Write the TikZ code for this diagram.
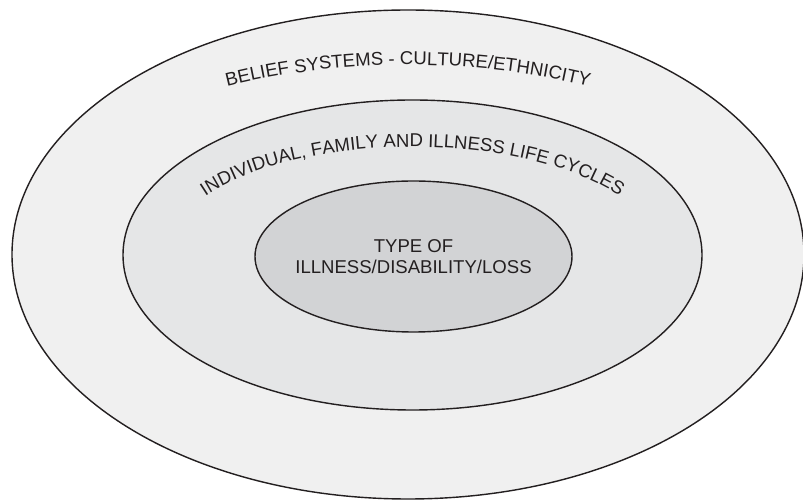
\documentclass[tikz,border=0pt]{standalone}
\usepackage{fontspec}
\setmainfont{Liberation Sans}
\usetikzlibrary{calc,decorations.text}
\definecolor{ringout}{HTML}{F0F0F0}
\definecolor{ringmid}{HTML}{E5E6E7}
\definecolor{ringin}{HTML}{D2D3D5}
\definecolor{inkgray}{HTML}{231F20}
\begin{document}
\begin{tikzpicture}[x=0.025cm,y=0.025cm,
  ring/.style={draw=inkgray,line width=1pt},
  lbl/.style={text=inkgray,font=\fontsize{13.2}{15}\selectfont}]
\useasboundingbox[fill=white] (0,0) rectangle (803,500);
\coordinate (c1) at (408,245.5);
\coordinate (c2) at (412.5,245);
\coordinate (c3) at (413.5,243.5);
\path[ring,fill=ringout] (c1) ellipse[x radius=396,y radius=244.5];
\path[ring,fill=ringmid] (c2) ellipse[x radius=289.5,y radius=155];
\path[ring,fill=ringin] (c3) ellipse[x radius=158.5,y radius=75.5];
% curved labels
\path[decorate,decoration={text along path,text align=center,
  text={|\color{inkgray}\fontsize{13.2}{15}\selectfont|BELIEF SYSTEMS - CULTURE/ETHNICITY}}]
  ($(c1)+(165:391 and 189.5)$) arc[start angle=165,end angle=15,x radius=391,y radius=189.5];
\path[decorate,decoration={text along path,text align=center,
  text={|\color{inkgray}\fontsize{13.2}{15}\selectfont|INDIVIDUAL, FAMILY AND ILLNESS LIFE CYCLES}}]
  ($(c2)+(170:247 and 108)$) arc[start angle=170,end angle=10,x radius=247,y radius=108];
\node[lbl,align=center] (type) at (c3) {TYPE OF\\ILLNESS/DISABILITY/LOSS};
\end{tikzpicture}
\end{document}
